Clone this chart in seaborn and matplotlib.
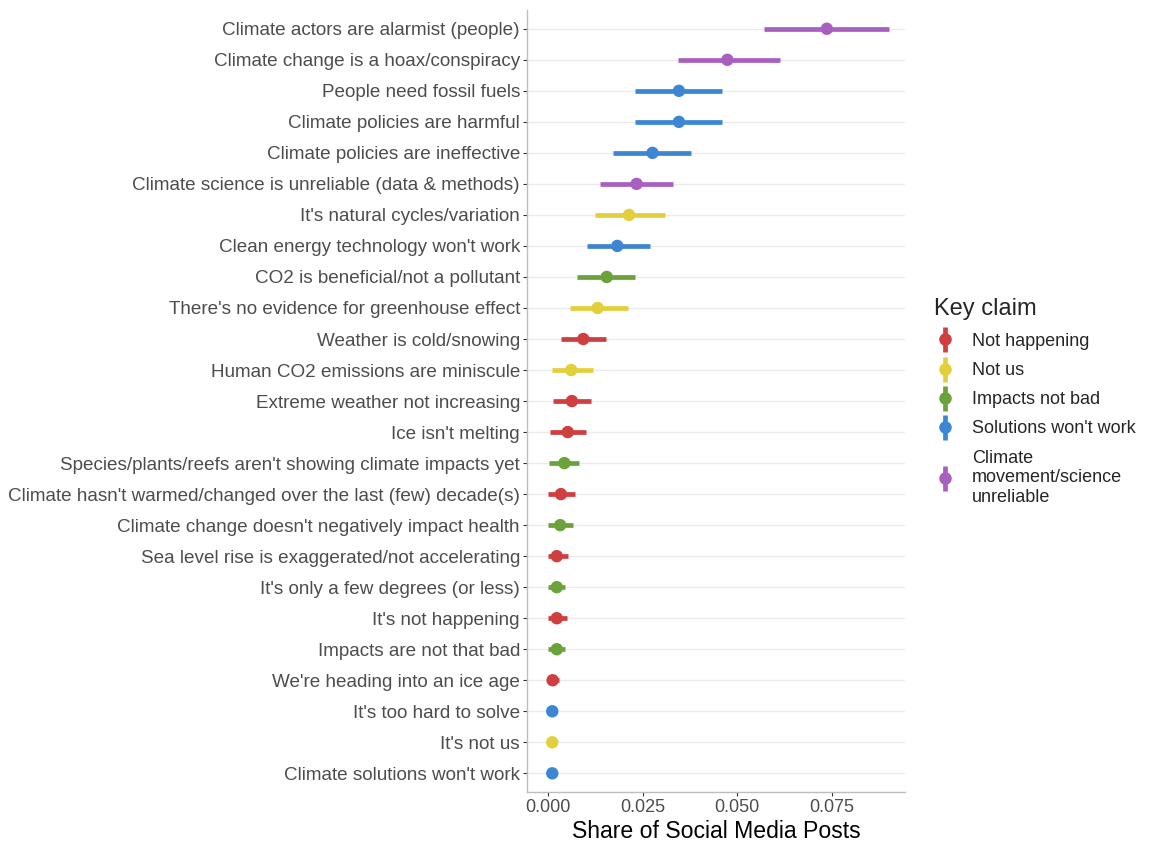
"""Point-range chart: share of social media posts per contrarian climate claim."""

import matplotlib
matplotlib.use("Agg")
import matplotlib.pyplot as plt
import numpy as np
import pandas as pd
import seaborn as sns
from matplotlib.lines import Line2D
from matplotlib.legend_handler import HandlerTuple


claims = [
    "Climate actors are alarmist (people)",
    "Climate change is a hoax/conspiracy",
    "People need fossil fuels",
    "Climate policies are harmful",
    "Climate policies are ineffective",
    "Climate science is unreliable (data & methods)",
    "It's natural cycles/variation",
    "Clean energy technology won't work",
    "CO2 is beneficial/not a pollutant",
    "There's no evidence for greenhouse effect",
    "Weather is cold/snowing",
    "Human CO2 emissions are miniscule",
    "Extreme weather not increasing",
    "Ice isn't melting",
    "Species/plants/reefs aren't showing climate impacts yet",
    "Climate hasn't warmed/changed over the last (few) decade(s)",
    "Climate change doesn't negatively impact health",
    "Sea level rise is exaggerated/not accelerating",
    "It's only a few degrees (or less)",
    "It's not happening",
    "Impacts are not that bad",
    "We're heading into an ice age",
    "It's too hard to solve",
    "It's not us",
    "Climate solutions won't work",
]
key_claim = [
    "Climate\nmovement/science\nunreliable", "Climate\nmovement/science\nunreliable",
    "Solutions won't work", "Solutions won't work", "Solutions won't work",
    "Climate\nmovement/science\nunreliable", "Not us", "Solutions won't work",
    "Impacts not bad", "Not us", "Not happening", "Not us", "Not happening",
    "Not happening", "Impacts not bad", "Not happening", "Impacts not bad",
    "Not happening", "Impacts not bad", "Not happening", "Impacts not bad",
    "Not happening", "Solutions won't work", "Not us", "Solutions won't work",
]
share = [0.0737, 0.0474, 0.0346, 0.0346, 0.0276, 0.0234, 0.0214, 0.0183,
         0.0155, 0.0131, 0.0093, 0.0061, 0.0063, 0.0052, 0.0043, 0.0034,
         0.0032, 0.0023, 0.0023, 0.0023, 0.0023, 0.0012, 0.0011, 0.0011, 0.0011]
lower = [0.0571, 0.0344, 0.0230, 0.0230, 0.0172, 0.0138, 0.0124, 0.0102,
         0.0076, 0.0058, 0.0034, 0.0011, 0.0012, 0.0005, 0.0003, 0.0000,
         0.0000, 0.0000, 0.0000, 0.0000, 0.0000, 0.0000, 0.0002, 0.0002, 0.0002]
upper = [0.0902, 0.0612, 0.0459, 0.0459, 0.0377, 0.0330, 0.0310, 0.0270,
         0.0230, 0.0212, 0.0153, 0.0120, 0.0113, 0.0101, 0.0083, 0.0070,
         0.0067, 0.0052, 0.0045, 0.0050, 0.0045, 0.0030, 0.0022, 0.0022, 0.0022]

groups = ["Not happening", "Not us", "Impacts not bad", "Solutions won't work",
          "Climate\nmovement/science\nunreliable"]
colors = ["#cf3f3f", "#e3cf3c", "#6ba33a", "#3d86d3", "#a95fc0"]
palette = dict(zip(groups, colors))

df = pd.DataFrame({"claim": claims, "group": key_claim, "share": share,
                   "lower": lower, "upper": upper})
df["pos"] = np.arange(len(df))

sns.set_theme(style="white")
plt.rcParams["font.family"] = ["Liberation Sans", "DejaVu Sans"]

fig = plt.figure(figsize=(11.53, 8.47), dpi=100)
ax = fig.add_axes([0.457, 0.065, 0.328, 0.923])

for y in df["pos"]:
    ax.axhline(y, color="#ebebeb", linewidth=1.0, zorder=0)

ax.hlines(df["pos"], df["lower"], df["upper"],
          colors=df["group"].map(palette), linewidth=3.4, zorder=2)
sns.scatterplot(data=df, x="share", y="pos", hue="group", hue_order=groups,
                palette=palette, s=80, edgecolor="none", legend=False,
                ax=ax, zorder=3)

ax.set_yticks(df["pos"])
ax.set_yticklabels(df["claim"])
ax.set_ylim(24.6, -0.6)
ax.set_xlim(-0.0056, 0.0944)
ax.set_xticks([0.0, 0.025, 0.05, 0.075])
ax.set_xticklabels(["0.000", "0.025", "0.050", "0.075"])
ax.tick_params(axis="y", labelsize=13.6, labelcolor="#4d4d4d",
               length=3, width=0.8, color="#333333", left=True, pad=2)
ax.tick_params(axis="x", labelsize=13, labelcolor="#4d4d4d",
               length=3, width=0.8, color="#333333", bottom=True, pad=2)
ax.set_xlabel("Share of Social Media Posts", fontsize=16.6, color="black",
              labelpad=3)
ax.set_ylabel("")
for side in ["top", "right"]:
    ax.spines[side].set_visible(False)
for side in ["left", "bottom"]:
    ax.spines[side].set_color("#bdbdbd")
    ax.spines[side].set_linewidth(1.0)

handles = []
for c in colors:
    bar = Line2D([], [], color=c, marker="|", linestyle="none",
                 markersize=18, markeredgewidth=3.4)
    dot = Line2D([], [], color=c, marker="o", linestyle="none", markersize=8)
    handles.append((bar, dot))
leg = fig.legend(handles, groups, title="Key claim",
                 handler_map={tuple: HandlerTuple(ndivide=1, pad=0)},
                 loc="upper left", bbox_to_anchor=(0.796, 0.667),
                 frameon=False, fontsize=13, title_fontsize=17,
                 handlelength=1.2, handletextpad=0.9, labelspacing=0.68,
                 alignment="left")

fig.savefig("out.png", dpi=100)
